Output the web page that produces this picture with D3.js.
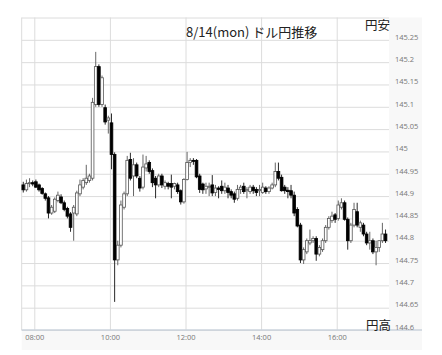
<!DOCTYPE html>
<html>
<head>
<meta charset="utf-8">
<script src="https://cdn.jsdelivr.net/npm/d3@7"></script>
<style>
  body { margin: 0; background: #fff; }
  svg { display: block; }
</style>
</head>
<body>
<div id="chart"></div>
<script>
// 5-minute candles, USD/JPY, 8/14
const times = ("07:40 07:45 07:50 07:55 " +
  "08:00 08:05 08:10 08:15 08:20 08:25 08:30 08:35 08:40 08:45 08:50 08:55 " +
  "09:00 09:05 09:10 09:15 09:20 09:25 09:30 09:35 09:40 09:45 09:50 09:55 " +
  "10:00 10:05 10:10 10:15 10:20 10:25 10:30 10:35 10:40 10:45 10:50 10:55 " +
  "11:00 11:05 11:10 11:15 11:20 11:25 11:30 11:35 11:40 11:45 11:50 11:55 " +
  "12:00 12:05 12:10 12:15 12:20 12:25 12:30 12:35 12:40 12:45 12:50 12:55 " +
  "13:00 13:05 13:10 13:15 13:20 13:25 13:30 13:35 13:40 13:45 13:50 13:55 " +
  "14:00 14:05 14:10 14:15 14:20 14:25 14:30 14:35 14:40 14:45 14:50 14:55 " +
  "15:00 15:05 15:10 15:15 15:20 15:25 15:30 15:35 15:40 15:45 15:50 15:55 " +
  "16:00 16:05 16:10 16:15 16:20 16:25 16:30 16:35 16:40 16:45 16:50 16:55 " +
  "17:00 17:05 17:10 17:15").split(" ");

const open = [
  144.925, 144.914, 144.928, 144.93, 144.932, 144.925, 144.917, 144.905, 144.896, 144.862,
  144.866, 144.89, 144.898, 144.885, 144.872, 144.86, 144.862, 144.86, 144.905, 144.92,
  144.93, 144.935, 144.94, 145.105, 145.19, 145.105, 145.098, 145.07, 145.064, 144.993,
  144.757, 144.79, 144.875, 144.905, 144.982, 144.945, 144.97, 144.94, 144.92, 144.963,
  144.975, 144.957, 144.94, 144.925, 144.945, 144.922, 144.928, 144.928, 144.922, 144.925,
  144.912, 144.887, 144.937, 144.975, 144.98, 144.98, 144.945, 144.927, 144.916, 144.92,
  144.925, 144.908, 144.918, 144.922, 144.912, 144.918, 144.91, 144.905, 144.895, 144.915,
  144.922, 144.912, 144.91, 144.92, 144.915, 144.912, 144.908, 144.918, 144.91, 144.918,
  144.925, 144.955, 144.942, 144.92, 144.913, 144.912, 144.902, 144.87, 144.835, 144.757,
  144.775, 144.795, 144.80, 144.805, 144.77, 144.78, 144.80, 144.83, 144.845, 144.858,
  144.85, 144.875, 144.885, 144.848, 144.80, 144.835, 144.865, 144.83, 144.835, 144.815,
  144.795, 144.80, 144.775, 144.785, 144.80, 144.815
];
const high = [
  144.932, 144.937, 144.94, 144.935, 144.937, 144.928, 144.92, 144.908, 144.90, 144.88,
  144.897, 144.91, 144.904, 144.89, 144.876, 144.864, 144.88, 144.912, 144.937, 144.94,
  144.97, 144.95, 145.12, 145.223, 145.195, 145.17, 145.105, 145.08, 145.085, 144.998,
  144.80, 144.89, 144.91, 144.99, 144.997, 144.985, 144.975, 144.945, 144.993, 144.99,
  144.98, 144.962, 144.945, 144.95, 144.95, 144.935, 144.932, 144.948, 144.93, 144.93,
  144.915, 144.94, 144.999, 144.985, 144.985, 144.983, 144.95, 144.93, 144.93, 144.93,
  144.947, 144.925, 144.922, 144.935, 144.93, 144.925, 144.915, 144.91, 144.925, 144.925,
  144.93, 144.92, 144.925, 144.925, 144.92, 144.925, 144.93, 144.922, 144.922, 144.93,
  144.975, 144.975, 144.948, 144.925, 144.92, 144.925, 144.91, 144.875, 144.84, 144.785,
  144.805, 144.825, 144.81, 144.81, 144.79, 144.805, 144.835, 144.855, 144.865, 144.862,
  144.89, 144.895, 144.89, 144.852, 144.84, 144.885, 144.885, 144.845, 144.84, 144.82,
  144.82, 144.805, 144.80, 144.80, 144.84, 144.825
];
const low = [
  144.908, 144.91, 144.92, 144.922, 144.918, 144.91, 144.903, 144.89, 144.85, 144.858,
  144.862, 144.886, 144.882, 144.866, 144.85, 144.82, 144.80, 144.855, 144.90, 144.915,
  144.925, 144.93, 144.935, 145.10, 145.10, 145.10, 145.06, 145.04, 144.96, 144.663,
  144.745, 144.785, 144.87, 144.90, 144.935, 144.90, 144.94, 144.91, 144.915, 144.955,
  144.95, 144.92, 144.895, 144.92, 144.918, 144.915, 144.915, 144.895, 144.915, 144.905,
  144.881, 144.883, 144.935, 144.965, 144.97, 144.94, 144.907, 144.905, 144.905, 144.90,
  144.90, 144.90, 144.895, 144.905, 144.905, 144.895, 144.895, 144.885, 144.89, 144.905,
  144.905, 144.895, 144.905, 144.905, 144.90, 144.90, 144.905, 144.905, 144.905, 144.915,
  144.92, 144.935, 144.91, 144.905, 144.895, 144.895, 144.855, 144.83, 144.75, 144.748,
  144.77, 144.79, 144.795, 144.755, 144.765, 144.775, 144.795, 144.825, 144.84, 144.84,
  144.845, 144.87, 144.845, 144.78, 144.795, 144.83, 144.83, 144.82, 144.81, 144.79,
  144.78, 144.77, 144.745, 144.775, 144.795, 144.795
];
const close = [
  144.914, 144.928, 144.93, 144.927, 144.92, 144.914, 144.906, 144.895, 144.862, 144.875,
  144.893, 144.902, 144.885, 144.87, 144.855, 144.83, 144.875, 144.907, 144.925, 144.935,
  144.94, 144.945, 145.11, 145.19, 145.105, 145.165, 145.066, 145.075, 144.993, 144.757,
  144.79, 144.88, 144.905, 144.98, 144.94, 144.97, 144.945, 144.918, 144.965, 144.972,
  144.955, 144.93, 144.925, 144.945, 144.925, 144.93, 144.922, 144.92, 144.928, 144.91,
  144.887, 144.937, 144.975, 144.98, 144.978, 144.943, 144.915, 144.914, 144.922, 144.922,
  144.907, 144.918, 144.915, 144.912, 144.92, 144.908, 144.902, 144.893, 144.915, 144.92,
  144.91, 144.915, 144.92, 144.912, 144.908, 144.915, 144.92, 144.91, 144.918, 144.925,
  144.955, 144.94, 144.912, 144.912, 144.91, 144.902, 144.862, 144.833, 144.757, 144.78,
  144.80, 144.80, 144.805, 144.77, 144.785, 144.80, 144.83, 144.85, 144.855, 144.848,
  144.88, 144.885, 144.848, 144.80, 144.835, 144.87, 144.835, 144.84, 144.815, 144.795,
  144.80, 144.775, 144.785, 144.80, 144.815, 144.80
];

const priceTicks = [144.6, 144.65, 144.7, 144.75, 144.8, 144.85, 144.9, 144.95,
  145, 145.05, 145.1, 145.15, 145.2, 145.25];
const timeTicks = ["08:00", "10:00", "12:00", "14:00", "16:00"];
const title = "8/14(mon) ドル円推移";

const width = 442, height = 355;
const plot = { left: 21.7, right: 389, top: 17.5, bottom: 330 };
const parse = d3.timeParse("%H:%M");

const svg = d3.select("#chart").append("svg")
  .attr("width", width)
  .attr("height", height);

const x = d3.scaleTime()
  .domain([parse("07:40"), parse("17:23")])
  .range([plot.left, plot.right]);

const y = d3.scaleLinear()
  .domain([144.6, 145.3])
  .range([plot.bottom, plot.top]);

// light strips behind the axis labels
svg.append("rect")
  .attr("x", plot.right).attr("y", plot.top)
  .attr("width", 422 - plot.right).attr("height", 350 - plot.top)
  .attr("fill", "#f8f8f8");
svg.append("rect")
  .attr("x", plot.left).attr("y", plot.bottom)
  .attr("width", 422 - plot.left).attr("height", 350 - plot.bottom)
  .attr("fill", "#f8f8f8");

// horizontal grid (incl. top border)
svg.append("g")
  .attr("transform", `translate(${plot.left},0)`)
  .call(d3.axisRight(y).tickValues(priceTicks.concat([145.3]))
    .tickSize(plot.right - plot.left).tickFormat(""))
  .call(g => g.select(".domain").remove())
  .call(g => g.selectAll("line").attr("stroke", "#dcdcdc"));

// vertical grid
svg.append("g")
  .attr("transform", `translate(0,${plot.bottom})`)
  .call(d3.axisTop(x).tickValues(timeTicks.map(parse))
    .tickSize(plot.bottom - plot.top).tickFormat(""))
  .call(g => g.select(".domain").remove())
  .call(g => g.selectAll("line").attr("stroke", "#dcdcdc"));

svg.append("line")
  .attr("x1", plot.left).attr("x2", plot.left)
  .attr("y1", plot.top).attr("y2", plot.bottom)
  .attr("stroke", "#dcdcdc");

svg.append("line")
  .attr("x1", plot.left).attr("x2", 422)
  .attr("y1", plot.bottom).attr("y2", plot.bottom)
  .attr("stroke", "#cbd3dc").attr("stroke-width", 1.5);

// price labels
svg.append("g")
  .attr("transform", `translate(${plot.right + 6},0)`)
  .call(d3.axisRight(y).tickValues(priceTicks).tickSize(0).tickPadding(0)
    .tickFormat(d => String(+d.toFixed(2))))
  .call(g => g.select(".domain").remove())
  .call(g => g.selectAll("text")
    .attr("dy", "-0.1em")
    .attr("fill", "#777")
    .style("font-family", "'Open Sans', sans-serif")
    .style("font-size", "7.5px"));

// time labels
svg.append("g")
  .attr("transform", `translate(0,${plot.bottom})`)
  .call(d3.axisBottom(x).tickValues(timeTicks.map(parse)).tickSize(0).tickPadding(5)
    .tickFormat(d3.timeFormat("%H:%M")))
  .call(g => g.select(".domain").remove())
  .call(g => g.selectAll("text")
    .attr("fill", "#777")
    .style("font-family", "'Open Sans', sans-serif")
    .style("font-size", "7.5px"));

// candles
const candles = times.map((t, i) => ({
  t: parse(t), o: open[i], h: high[i], l: low[i], c: close[i]
}));
const half = (x(parse("07:45")) - x(parse("07:40"))) / 2;
const bodyW = 2.7;

const g = svg.append("g");
candles.forEach(d => {
  const cx = x(d.t) + half;
  const up = d.c >= d.o;
  g.append("line")
    .attr("x1", cx).attr("x2", cx)
    .attr("y1", y(d.h)).attr("y2", y(d.l))
    .attr("stroke", up ? "#555" : "#111")
    .attr("stroke-width", 0.9);
  const top = y(Math.max(d.o, d.c));
  const bh = Math.max(1, Math.abs(y(d.o) - y(d.c)));
  g.append("rect")
    .attr("x", cx - bodyW / 2).attr("y", top)
    .attr("width", bodyW).attr("height", bh)
    .attr("fill", up ? "#fff" : "#000")
    .attr("stroke", up ? "#555" : "#000")
    .attr("stroke-width", 0.8);
});

// title and side captions
svg.append("text")
  .attr("x", 186).attr("y", 37)
  .style("font-family", "'Noto Sans CJK JP', sans-serif")
  .style("font-size", "13px")
  .attr("fill", "#222")
  .text(title);

svg.append("text")
  .attr("x", 365).attr("y", 30)
  .style("font-family", "'Noto Sans CJK JP', sans-serif")
  .style("font-size", "12.5px")
  .attr("fill", "#222")
  .text("円安");

svg.append("text")
  .attr("x", 366).attr("y", 330)
  .style("font-family", "'Noto Sans CJK JP', sans-serif")
  .style("font-size", "12.5px")
  .attr("fill", "#222")
  .text("円高");
</script>
</body>
</html>
